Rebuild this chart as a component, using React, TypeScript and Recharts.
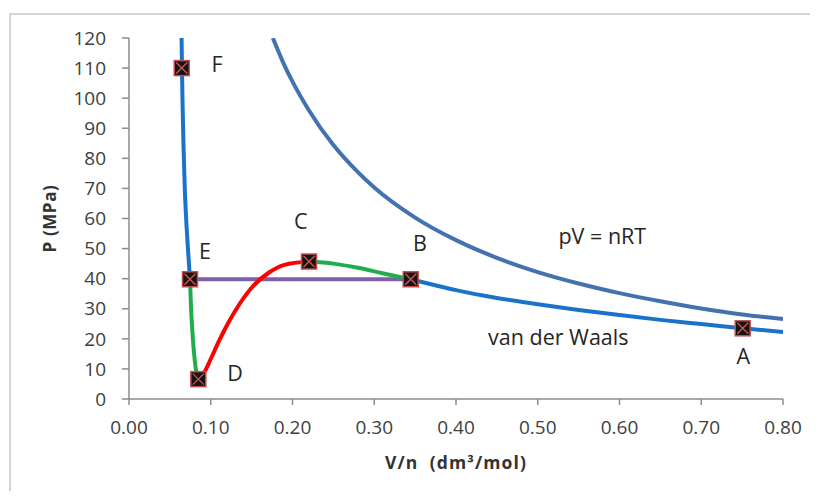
import React from 'react';
import { ComposedChart, Line, Scatter, XAxis, YAxis, Label } from 'recharts';

// Ideal gas curve pV = nRT
const idealV = [0.176, 0.19, 0.2, 0.22, 0.25, 0.28, 0.3, 0.35, 0.4, 0.45, 0.5, 0.55, 0.6, 0.65, 0.7, 0.75, 0.8];
const idealP = [120, 111, 105.5, 96, 84.4, 75.4, 70.3, 60.3, 52.8, 46.9, 42.2, 38.4, 35.2, 32.5, 30.1, 28.1, 26.6];

// van der Waals isotherm segments
const vdwLeftV = [0.0643, 0.0648, 0.0656, 0.0667, 0.0681, 0.0699, 0.0721, 0.0746];
const vdwLeftP = [120, 110, 97, 84, 71, 60, 50, 39.8];

const greenLeftV = [0.0746, 0.0758, 0.0774, 0.0793, 0.0815, 0.0835, 0.0848];
const greenLeftP = [39.8, 31, 23, 16, 10.5, 7.5, 6.6];

const redV = [0.0848, 0.088, 0.093, 0.1, 0.11, 0.12, 0.135, 0.15, 0.17, 0.19, 0.2202];
const redP = [6.6, 7.3, 9.3, 13.3, 19.2, 24.6, 31.5, 37.0, 41.8, 44.6, 45.7];

const greenRightV = [0.2202, 0.25, 0.28, 0.31, 0.3446];
const greenRightP = [45.7, 45.0, 43.6, 41.8, 39.8];

const vdwRightV = [0.3446, 0.4, 0.45, 0.5, 0.55, 0.6, 0.65, 0.7, 0.75, 0.8];
const vdwRightP = [39.8, 36.2, 33.6, 31.5, 29.6, 27.9, 26.3, 24.9, 23.5, 22.3];

const tieV = [0.0746, 0.3446];
const tieP = [39.8, 39.8];

// Marked states A..F
const pointV = [0.7507, 0.3446, 0.2202, 0.0848, 0.0746, 0.0645];
const pointP = [23.5, 39.8, 45.7, 6.6, 39.8, 110];

// Text annotations
const noteText = ['F', 'E', 'C', 'B', 'D', 'A', 'pV = nRT', 'van der Waals'];
const noteV = [0.1077, 0.093, 0.21, 0.356, 0.1296, 0.7514, 0.579, 0.5251];
const noteP = [111.4, 49.5, 59.3, 52.1, 8.7, 14.3, 54.5, 20.7];

const xTicks = [0, 0.1, 0.2, 0.3, 0.4, 0.5, 0.6, 0.7, 0.8];
const yTicks = [0, 10, 20, 30, 40, 50, 60, 70, 80, 90, 100, 110, 120];

const rows = (vs: number[], ps: number[]) => vs.map((v, i) => ({ v, p: ps[i] }));

const idealData = rows(idealV, idealP);
const vdwLeftData = rows(vdwLeftV, vdwLeftP);
const greenLeftData = rows(greenLeftV, greenLeftP);
const redData = rows(redV, redP);
const greenRightData = rows(greenRightV, greenRightP);
const vdwRightData = rows(vdwRightV, vdwRightP);
const tieData = rows(tieV, tieP);
const pointData = rows(pointV, pointP);
const noteData = noteV.map((v, i) => ({ v, p: noteP[i], text: noteText[i] }));

const FONT = "'Open Sans', 'DejaVu Sans', sans-serif";
const tickStyle = { fontFamily: FONT, fontSize: 19, fill: '#404040' };
const AXIS = '#8c8c8c';

const Marker = (props: any) => {
  const { cx, cy } = props;
  if (cx == null || cy == null) return null;
  const s = 7.5;
  return (
    <g>
      <rect x={cx - s} y={cy - s} width={2 * s} height={2 * s} fill="#141414" stroke="#c0504d" strokeWidth={1.5} />
      <line x1={cx - s + 2} y1={cy - s + 2} x2={cx + s - 2} y2={cy + s - 2} stroke="#d9534f" strokeWidth={1.3} />
      <line x1={cx - s + 2} y1={cy + s - 2} x2={cx + s - 2} y2={cy - s + 2} stroke="#d9534f" strokeWidth={1.3} />
    </g>
  );
};

const Note = (props: any) => {
  const { cx, cy, payload } = props;
  if (cx == null || cy == null) return null;
  return (
    <text
      x={cx}
      y={cy}
      textAnchor="middle"
      dominantBaseline="central"
      fontFamily={FONT}
      fontSize={21.5}
      fill="#262626"
    >
      {payload.text}
    </text>
  );
};

export default function App() {
  return (
    <div style={{ position: 'relative', width: 810, height: 483, overflow: 'hidden', background: '#fff' }}>
      <div
        style={{
          position: 'absolute',
          left: 1,
          top: 5,
          width: 820,
          height: 500,
          borderTop: '2px solid #d4d4d4',
          borderLeft: '2px solid #d4d4d4',
          boxSizing: 'border-box',
        }}
      />
      <ComposedChart
        width={810}
        height={483}
        margin={{ top: 30, right: 35, bottom: 22, left: 0 }}
        style={{ position: 'absolute', left: 0, top: 0 }}
      >
        <XAxis
          type="number"
          dataKey="v"
          domain={[0, 0.8]}
          ticks={xTicks}
          allowDataOverflow
          tickFormatter={(t: number) => t.toFixed(2)}
          tick={tickStyle}
          tickSize={6}
          tickMargin={16}
          height={70}
          stroke={AXIS}
          strokeWidth={1.5}
          tickLine={{ stroke: AXIS, strokeWidth: 1.5 }}
        >
          <Label
            value={'V/n\u00A0\u00A0(dm³/mol)'}
            position="insideBottom"
            offset={0}
            style={{ fontFamily: FONT, fontSize: 17.5, fontWeight: 700, fill: '#333', letterSpacing: 1.1 }}
          />
        </XAxis>
        <YAxis
          type="number"
          dataKey="p"
          domain={[0, 120]}
          ticks={yTicks}
          allowDataOverflow
          tick={tickStyle}
          tickSize={7}
          tickMargin={16}
          width={121}
          stroke={AXIS}
          strokeWidth={1.5}
          tickLine={{ stroke: AXIS, strokeWidth: 1.5 }}
        >
          <Label
            value="P (MPa)"
            angle={-90}
            position="insideLeft"
            offset={42}
            style={{ fontFamily: FONT, fontSize: 17, fontWeight: 700, fill: '#333', textAnchor: 'middle', letterSpacing: 0.6 }}
          />
        </YAxis>
        <Line data={idealData} dataKey="p" type="monotone" stroke="#4472b0" strokeWidth={4} dot={false} isAnimationActive={false} />
        <Line data={vdwLeftData} dataKey="p" type="monotone" stroke="#1a73c8" strokeWidth={4} dot={false} isAnimationActive={false} />
        <Line data={vdwRightData} dataKey="p" type="monotone" stroke="#1a73c8" strokeWidth={4} dot={false} isAnimationActive={false} />
        <Line data={tieData} dataKey="p" type="linear" stroke="#7e5fa3" strokeWidth={4} dot={false} isAnimationActive={false} />
        <Line data={greenLeftData} dataKey="p" type="monotone" stroke="#1fae4c" strokeWidth={4} dot={false} isAnimationActive={false} />
        <Line data={greenRightData} dataKey="p" type="monotone" stroke="#1fae4c" strokeWidth={4} dot={false} isAnimationActive={false} />
        <Line data={redData} dataKey="p" type="monotone" stroke="#ff0000" strokeWidth={4} dot={false} isAnimationActive={false} />
        <Scatter data={pointData} dataKey="p" shape={<Marker />} isAnimationActive={false} />
        <Scatter data={noteData} dataKey="p" shape={<Note />} isAnimationActive={false} />
      </ComposedChart>
    </div>
  );
}
